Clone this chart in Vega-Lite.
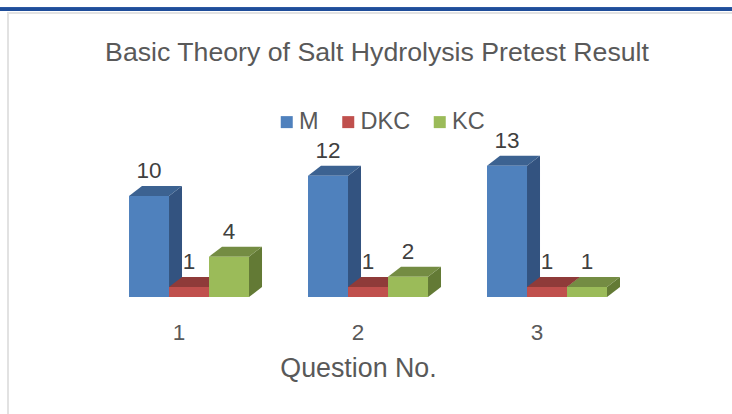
{"$schema":"https://vega.github.io/schema/vega-lite/v6.json","width":734,"height":411,"autosize":"none","padding":{"left":8,"top":13,"right":-10,"bottom":-10},"background":"#ffffff","view":{"stroke":"#E2E2E2","strokeWidth":2},
"title":{"text":"Basic Theory of Salt Hydrolysis Pretest Result","font":"Liberation Sans","fontSize":26.7,"fontWeight":"normal","color":"#595959","anchor":"middle","frame":"group","dx":2,"dy":59,"offset":0},
"data":{"values":[{"question":"1","series":"M","value":10},{"question":"1","series":"DKC","value":1},{"question":"1","series":"KC","value":4},{"question":"2","series":"M","value":12},{"question":"2","series":"DKC","value":1},{"question":"2","series":"KC","value":2},{"question":"3","series":"M","value":13},{"question":"3","series":"DKC","value":1},{"question":"3","series":"KC","value":1}]},
"encoding":{
"x":{"field":"question","type":"nominal","scale":{"paddingInner":0.3296,"paddingOuter":0.7151,"align":0.4727},"axis":{"orient":"bottom","offset":-127,"labelAngle":0,"domain":false,"ticks":false,"grid":false,"labelOffset":-10,"labelPadding":24,"labelFont":"Liberation Sans","labelFontSize":22.5,"labelColor":"#595959","title":"Question No.","titleFont":"Liberation Sans","titleFontSize":26.8,"titleFontWeight":"normal","titleColor":"#595959","titleX":350,"titleY":71,"titleBaseline":"middle"}},
"xOffset":{"field":"series","type":"nominal","sort":["M","DKC","KC"],"scale":{"domain":["M","DKC","KC"],"paddingInner":0,"paddingOuter":0}},
"y":{"field":"value","type":"quantitative","stack":null,"scale":{"domain":[-12.57,28.12],"nice":false,"zero":false},"axis":null}
},
"layer":[
{"mark":{"type":"point","filled":true,"opacity":1,"size":4,"color":"#1F4E9A","shape":"M-1000,-1.5L1000,-1.5L1000,1.5L-1000,1.5Z"},"encoding":{"y":{"datum":28.5}}},
{"mark":{"type":"point","filled":true,"opacity":1,"size":4},"encoding":{"shape":{"field":"value","type":"ordinal","legend":null,"scale":{"domain":[1,2,4,10,12,13],"range":["M20,0L33,-10L33,0.1L20,10.1Z","M20,0L33,-10L33,10.2L20,20.2Z","M20,0L33,-10L33,30.4L20,40.4Z","M20,0L33,-10L33,91L20,101Z","M20,0L33,-10L33,111.2L20,121.2Z","M20,0L33,-10L33,121.3L20,131.3Z"]}},"color":{"field":"series","type":"nominal","scale":{"domain":["M","DKC","KC"],"range":["#335380","#8A3836","#637A35"]},"legend":null}}},
{"mark":{"type":"point","filled":true,"opacity":1,"size":4,"shape":"M-20,0L20,0L33,-10L-7,-10Z"},"encoding":{"color":{"field":"series","type":"nominal","scale":{"domain":["M","DKC","KC"],"range":["#3C6291","#8F3B39","#748C43"]},"legend":null}}},
{"mark":{"type":"bar"},"encoding":{"color":{"field":"series","type":"nominal","scale":{"domain":["M","DKC","KC"],"range":["#4F81BD","#C0504D","#9BBB59"]},"legend":{"title":null,"orient":"none","legendX":267,"legendY":97,"direction":"horizontal","symbolType":"square","symbolSize":144,"symbolStrokeWidth":0,"labelFont":"Liberation Sans","labelFontSize":23.5,"labelColor":"#595959","labelOffset":0.5,"columnPadding":17.5,"padding":0}}}},
{"mark":{"type":"text","font":"Liberation Sans","fontSize":22.5,"color":"#404040","dy":-25,"baseline":"middle","align":"center"},"encoding":{"text":{"field":"value","type":"quantitative"}}}
],
"resolve":{"scale":{"color":"independent"}}}
